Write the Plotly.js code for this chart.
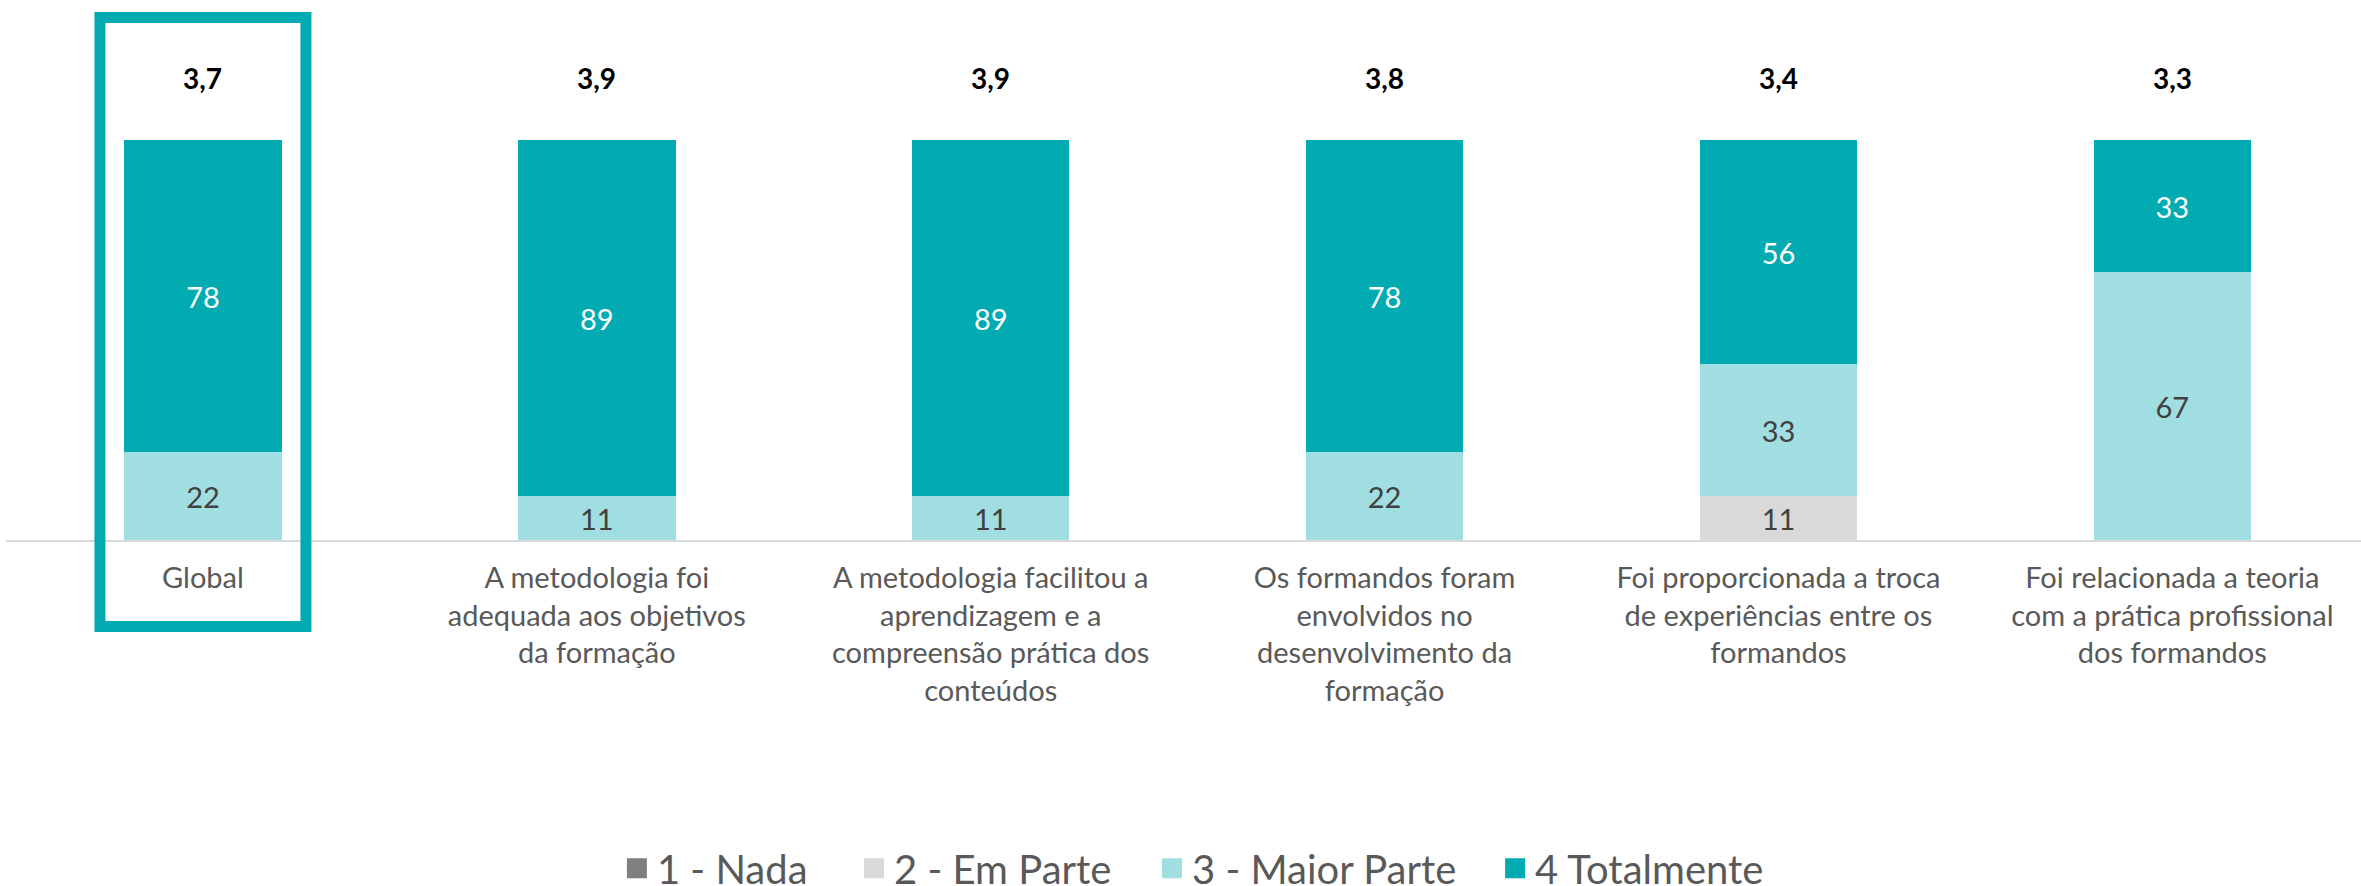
<!DOCTYPE html>
<html>
<head>
<meta charset="utf-8">
<script src="https://cdn.plot.ly/plotly-3.0.1.min.js"></script>
<style>html,body{margin:0;padding:0;background:#fff;}#chart{width:2361px;height:886px;}</style>
</head>
<body>
<div id="chart"></div>
<script>
// ---- data ----
const categories = [
  "Global",
  "A metodologia foi<br>adequada aos objetivos<br>da formação",
  "A metodologia facilitou a<br>aprendizagem e a<br>compreensão prática dos<br>conteúdos",
  "Os formandos foram<br>envolvidos no<br>desenvolvimento da<br>formação",
  "Foi proporcionada a troca<br>de experiências entre os<br>formandos",
  "Foi relacionada a teoria<br>com a prática profissional<br>dos formandos"
];
const seriesNames = ["1 - Nada", "2 - Em Parte", "3 - Maior Parte", "4 Totalmente"];
const nada        = [0, 0, 0, 0, 0, 0];
const emParte     = [0, 0, 0, 0, 11, 0];
const maiorParte  = [22, 11, 11, 22, 33, 67];
const totalmente  = [78, 89, 89, 78, 56, 33];
const averages    = [3.7, 3.9, 3.9, 3.8, 3.4, 3.3];

// ---- styles ----
const colors = ["#7F7F7F", "#D9D9D9", "#A0DEE2", "#02ABB2"];
const textColors = ["#404040", "#404040", "#404040", "#FFFFFF"];
const FONT = "Lato, 'Open Sans', sans-serif";
const legendIds = ["legend", "legend2", "legend3", "legend4"];
const legendX = [0.2594, 0.3601, 0.4866, 0.6323];

const values = [nada, emParte, maiorParte, totalmente];
const barTraces = values.map((vals, i) => ({
  type: "bar",
  name: seriesNames[i],
  x: categories,
  y: vals,
  showlegend: false,
  marker: {color: colors[i], line: {width: 0}},
  text: vals.map(v => v > 0 ? String(v) : ""),
  textposition: "inside",
  insidetextanchor: "middle",
  textangle: 0,
  constraintext: "none",
  textfont: {family: FONT, size: 29, color: textColors[i]},
  hoverinfo: "none"
}));

// legend entries (square swatches), one legend box per series
const legendTraces = seriesNames.map((n, i) => ({
  type: "scatter", mode: "markers",
  name: n, x: [null], y: [null],
  legend: legendIds[i],
  marker: {symbol: "square", size: 16, color: colors[i], line: {color: colors[i], width: 4}},
  hoverinfo: "none"
}));

const annotations = categories.map((c, i) => ({
  x: c, y: 115.5, xref: "x", yref: "y",
  text: "<b>" + averages[i].toFixed(1).replace(".", ",") + "</b>",
  showarrow: false,
  font: {family: FONT, size: 28, color: "#000000"}
}));

const layout = {
  width: 2361, height: 886,
  margin: {l: 6, r: 0, t: 0, b: 346, autoexpand: false},
  paper_bgcolor: "#FFFFFF", plot_bgcolor: "#FFFFFF",
  barmode: "stack",
  bargap: 0.6,
  showlegend: true,
  xaxis: {
    type: "category",
    range: [-0.5, 5.479],
    showline: true, linecolor: "#D9D9D9", linewidth: 2,
    showgrid: false, zeroline: false,
    ticks: "",
    ticklabelstandoff: 11,
    tickfont: {family: FONT, size: 29, color: "#595959"},
    fixedrange: true
  },
  yaxis: {range: [0, 135], visible: false, showgrid: false, zeroline: false, fixedrange: true},
  annotations: annotations,
  shapes: [{
    type: "rect", xref: "x", yref: "paper",
    x0: -0.2615, x1: 0.2615, y0: -0.1602, y1: 0.9676,
    line: {color: "#02ABB2", width: 11}, fillcolor: "rgba(0,0,0,0)", layer: "above"
  }]
};
legendIds.forEach((id, i) => {
  layout[id] = {
    orientation: "h", x: legendX[i], xanchor: "left", y: -0.608, yanchor: "middle",
    font: {family: FONT, size: 40, color: "#595959"},
    bgcolor: "rgba(0,0,0,0)", borderwidth: 0, itemclick: false, itemdoubleclick: false
  };
});

Plotly.newPlot("chart", barTraces.concat(legendTraces), layout, {displayModeBar: false, staticPlot: true});
</script>
</body>
</html>
